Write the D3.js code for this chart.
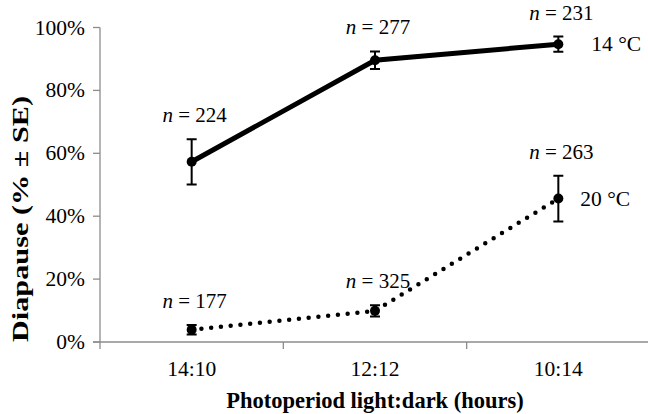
<!DOCTYPE html>
<html>
  <head>
    <script src="https://d3js.org/d3.v7.min.js"></script>
    <style>
      body { margin: 0; background: #fff; }
    </style>
  </head>
  <body>
    <svg id="chart" width="648" height="414" font-family="Liberation Serif, Times New Roman, DejaVu Serif, serif"></svg>
  </body>
  <script>
    // photoperiod categories
    const photoperiods = ['14:10', '12:12', '10:14']
    const yTicks = [0, 0.2, 0.4, 0.6, 0.8, 1.0]

    // 14 °C series
    const warm14 = [0.573, 0.896, 0.947]
    const warm14SE = [0.072, 0.028, 0.024]
    const warm14N = [224, 277, 231]

    // 20 °C series
    const warm20 = [0.039, 0.099, 0.456]
    const warm20SE = [0.015, 0.018, 0.073]
    const warm20N = [177, 325, 263]

    const series = [
      { label: '14 °C', values: warm14, se: warm14SE, n: warm14N },
      { label: '20 °C', values: warm20, se: warm20SE, n: warm20N }
    ]

    const svg = d3.select('#chart')
    const axisColor = '#8c8c8c'

    const x = d3.scaleBand().domain(photoperiods).range([100, 650]).padding(0)
    const y = d3.scaleLinear().domain([0, 1]).range([342, 27.5])
    const cx = d => x(d) + x.bandwidth() / 2

    // y axis
    svg.append('line')
      .attr('x1', 100).attr('x2', 100)
      .attr('y1', y(1)).attr('y2', y(0))
      .attr('stroke', axisColor).attr('stroke-width', 1.3)
    svg.selectAll('.ytick').data(yTicks).enter()
      .append('line')
        .attr('x1', 93).attr('x2', 100)
        .attr('y1', d => y(d)).attr('y2', d => y(d))
        .attr('stroke', axisColor).attr('stroke-width', 1.3)
    svg.selectAll('.ylab').data(yTicks).enter()
      .append('text')
        .attr('x', 85).attr('y', d => y(d) + 7)
        .attr('text-anchor', 'end')
        .attr('font-size', 21.5)
        .text(d => d3.format('.0%')(d))

    // x axis
    svg.append('line')
      .attr('x1', 93).attr('x2', 650)
      .attr('y1', y(0)).attr('y2', y(0))
      .attr('stroke', axisColor).attr('stroke-width', 1.3)
    svg.selectAll('.xtick').data(photoperiods).enter()
      .append('line')
        .attr('x1', d => x(d)).attr('x2', d => x(d))
        .attr('y1', y(0)).attr('y2', y(0) + 7)
        .attr('stroke', axisColor).attr('stroke-width', 1.3)
    svg.selectAll('.xlab').data(photoperiods).enter()
      .append('text')
        .attr('x', d => cx(d)).attr('y', 376)
        .attr('text-anchor', 'middle')
        .attr('font-size', 21.5)
        .text(d => d)

    // axis titles
    svg.append('text')
      .attr('x', 375).attr('y', 408)
      .attr('text-anchor', 'middle')
      .attr('font-size', 22.5).attr('font-weight', 'bold')
      .text('Photoperiod light:dark (hours)')
    svg.append('text')
      .attr('transform', 'translate(28, 219) rotate(-90)')
      .attr('text-anchor', 'middle')
      .attr('font-size', 23).attr('font-weight', 'bold')
      .attr('textLength', 246).attr('lengthAdjust', 'spacingAndGlyphs')
      .text('Diapause (%  ± SE)')

    const line = d3.line()
      .x((d, i) => cx(photoperiods[i]))
      .y(d => y(d))

    // lines
    svg.append('path')
      .attr('d', line(warm14))
      .attr('fill', 'none').attr('stroke', '#000')
      .attr('stroke-width', 5)
    svg.append('path')
      .attr('d', line(warm20))
      .attr('fill', 'none').attr('stroke', '#000')
      .attr('stroke-width', 4.5)
      .attr('stroke-linecap', 'round')
      .attr('stroke-dasharray', '0 9.8')

    series.forEach((s, si) => {
      const g = svg.append('g')
      const pts = s.values.map((v, i) => ({ cat: photoperiods[i], v: v, se: s.se[i], n: s.n[i] }))

      // error bars
      g.selectAll('.err').data(pts).enter()
        .append('path')
          .attr('d', d => {
            const xx = cx(d.cat), t = y(d.v + d.se), b = y(d.v - d.se)
            return `M${xx - 5},${t}H${xx + 5}M${xx},${t}V${b}M${xx - 5},${b}H${xx + 5}`
          })
          .attr('fill', 'none').attr('stroke', '#000').attr('stroke-width', 2)

      // markers
      g.selectAll('circle').data(pts).enter()
        .append('circle')
          .attr('cx', d => cx(d.cat)).attr('cy', d => y(d.v))
          .attr('r', 5).attr('fill', '#000')

      // n labels
      g.selectAll('.nlab').data(pts).enter()
        .append('text')
          .attr('x', d => cx(d.cat) + 3)
          .attr('y', d => y(d.v + d.se) - 17)
          .attr('text-anchor', 'middle')
          .attr('font-size', 21)
          .each(function (d) {
            const t = d3.select(this)
            t.append('tspan').attr('font-style', 'italic').text('n')
            t.append('tspan').text(' = ' + d.n)
          })

      // series label
      const last = pts[pts.length - 1]
      g.append('text')
        .attr('x', cx(last.cat) + (si === 0 ? 33 : 22))
        .attr('y', y(last.v) + 7)
        .attr('font-size', 21.5)
        .text(s.label)
    })
  </script>
</html>
